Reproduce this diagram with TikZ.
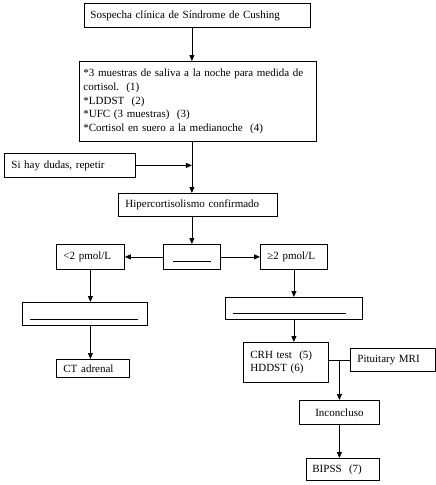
\documentclass[tikz,border=0pt]{standalone}
\usepackage{fontspec}
\setmainfont{Liberation Serif}
\usetikzlibrary{arrows.meta,calc}
\begin{document}
\begin{tikzpicture}[x=1pt,y=-1pt,
  box/.style={draw, line width=0.8pt, inner ysep=0pt, inner xsep=7pt, align=left,
    font=\fontsize{11}{13.7}\selectfont, anchor=north west},
  arr/.style={line width=0.8pt, -{Triangle[length=6pt,width=5pt]}},
  ln/.style={line width=0.8pt}]
\useasboundingbox (0,0) rectangle (436,485);
\newcommand{\bx}[7]{% name, x1, y1, x2, y2, xsep, text
  \node[box, inner xsep=#6, minimum width={#4-#2}, minimum height={#5-#3}, text width={#4-#2-2*#6}] (#1) at (#2,#3) {#7};}
\bx{b1}{84}{3}{310}{27}{6pt}{Sospecha clínica de Síndrome de Cushing}
\bx{b2}{79}{61}{316}{141}{4pt}{*3 muestras de saliva a la noche para medida de\\{}cortisol.\ \ (1)\\{}*LDDST\ \ (2)\\{}*UFC (3 muestras)\ \ (3)\\{}*Cortisol en suero a la medianoche\ \ (4)}
\bx{dud}{4}{153}{135}{177}{7pt}{Si hay dudas, repetir}
\bx{hip}{118}{193}{277}{216}{7pt}{Hipercortisolismo confirmado}
\bx{mid}{163}{244}{220}{269}{7pt}{}
\bx{lt}{56}{244}{124}{269}{7pt}{<2 pmol/L}
\bx{ge}{260}{244}{327}{269}{7pt}{≥2 pmol/L}
\bx{l2}{22}{302}{147}{325}{7pt}{}
\bx{ct}{56}{359}{129}{377}{7pt}{CT adrenal}
\bx{r2}{225}{297}{362}{319}{7pt}{}
\bx{crh}{243}{342}{328}{382}{7pt}{CRH test\ \ (5)\\{}HDDST (6)}
\bx{mri}{350}{348}{435}{371}{7pt}{Pituitary MRI}
\node[box, anchor=north west, align=center, minimum width=80, minimum height=24, text width=66] (inc) at (299,400) {Inconcluso};
\bx{bip}{306}{458}{379}{480}{6pt}{BIPSS\ \ (7)}
% underscore lines
\draw[ln] ($(mid.center)+(-19,4.5)$) -- ++(38,0);
\draw[ln] ($(l2.center)+(-54.5,5.5)$) -- ++(108,0);
\draw[ln] ($(r2.center)+(-60.5,5)$) -- ++(113,0);
% connectors
\draw[arr] (b1.south -| mid) -- (b2.north -| mid);
\draw[arr] (b2.south -| mid) -- (hip.north -| mid);
\draw[arr] (dud.east) -- (dud.east -| mid);
\draw[arr] (hip.south -| mid) -- (mid.north);
\draw[arr] (mid.west) -- (lt.east);
\draw[arr] (mid.east) -- (ge.west);
\draw[arr] (lt.south) -- (l2.north -| lt.south);
\draw[arr] (l2.south -| lt.south) -- (ct.north -| lt.south);
\draw[arr] (ge.south) -- (r2.north -| ge.south);
\draw[arr] (r2.south -| ge.south) -- (crh.north -| ge.south);
\draw[ln] (mri.west -| crh.east) -- (mri.west);
\draw[arr] (mri.west -| inc.north) -- (inc.north);
\draw[arr] (inc.south) -- (bip.north -| inc.south);
\end{tikzpicture}
\end{document}
